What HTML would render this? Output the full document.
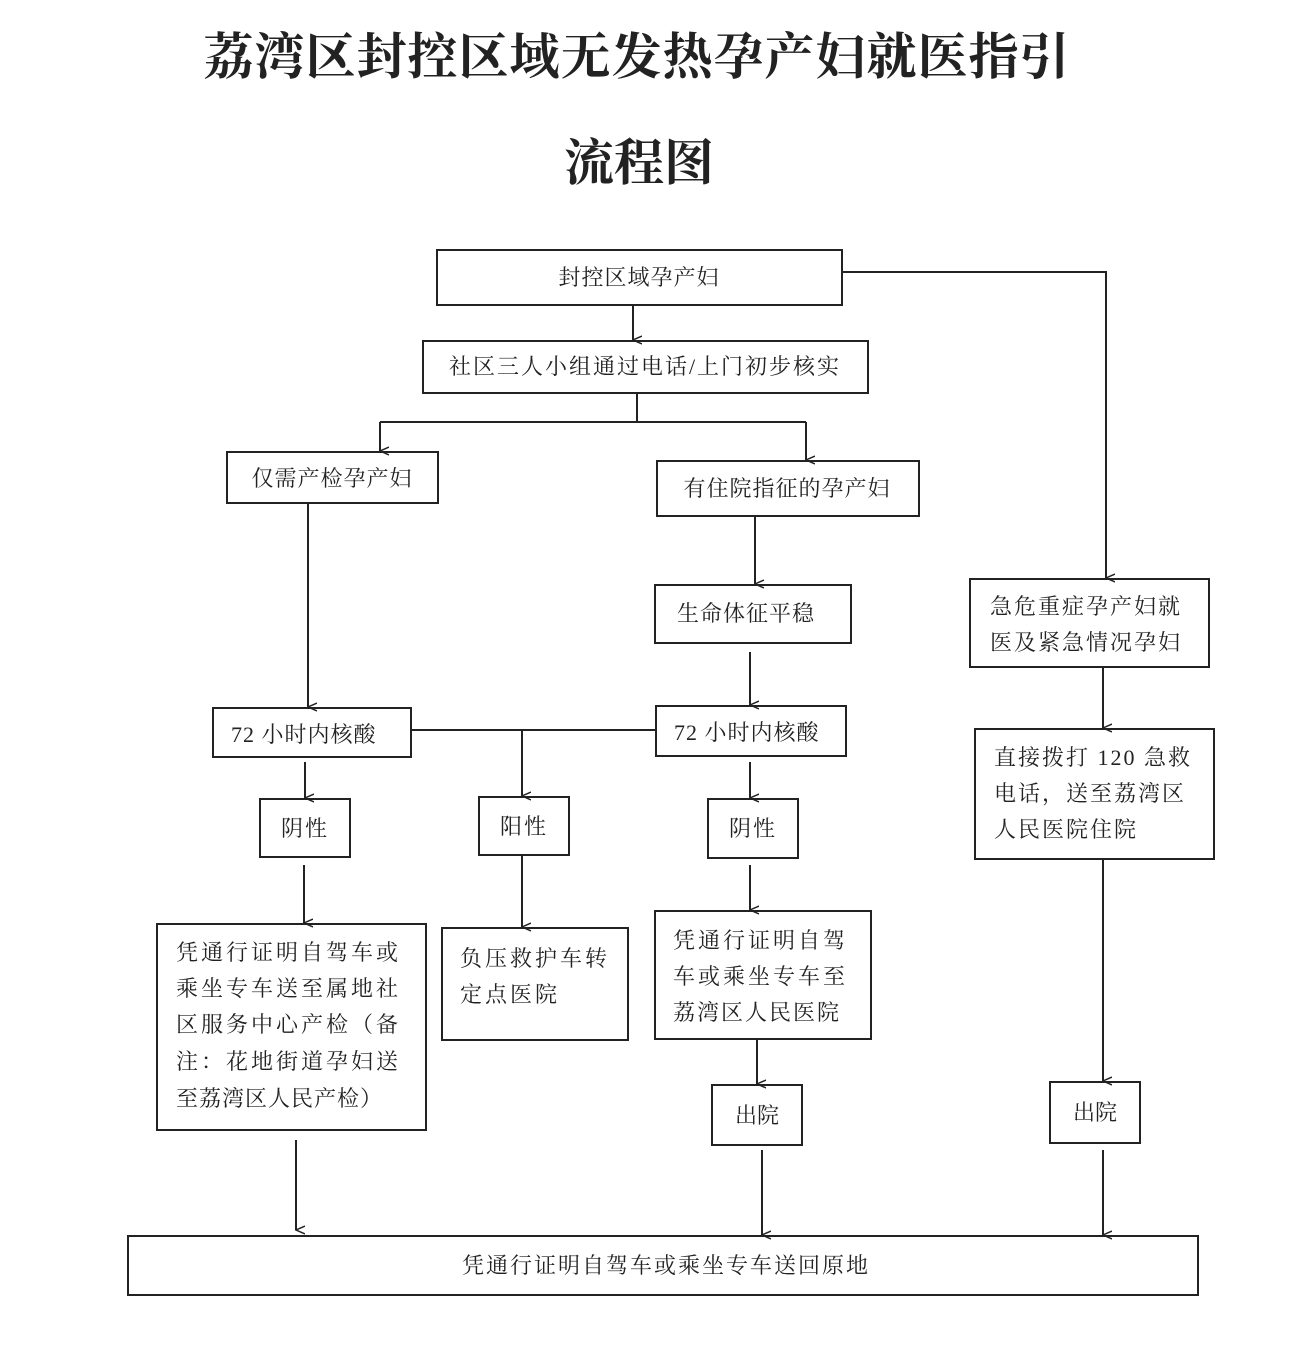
<!DOCTYPE html>
<html><head><meta charset="utf-8"><style>
html,body{margin:0;padding:0;background:#fff;}
svg{display:block;}
text{font-family:"Liberation Serif","Noto Serif CJK SC","Noto Sans CJK SC",serif;fill:#222;}
.t{font-size:22px;}
</style></head><body>
<svg width="1292" height="1362" viewBox="0 0 1292 1362" xmlns="http://www.w3.org/2000/svg">
<defs><marker id="a" markerWidth="10" markerHeight="10" refX="5" refY="9" orient="auto" markerUnits="userSpaceOnUse"><path d="M1,0 L5,9 L9,0" fill="none" stroke="#222" stroke-width="1.5"/></marker></defs>
<text x="637" y="74" text-anchor="middle" font-size="50" font-weight="bold" letter-spacing="1" style="font-family:'Noto Serif CJK SC',serif">荔湾区封控区域无发热孕产妇就医指引</text>
<text x="639" y="180" text-anchor="middle" font-size="50" font-weight="bold" style="font-family:'Noto Serif CJK SC',serif">流程图</text>
<g fill="none" stroke="#222" stroke-width="2">
<rect x="437" y="250" width="405" height="55"/>
<rect x="423" y="341" width="445" height="52"/>
<rect x="227" y="452" width="211" height="51"/>
<rect x="657" y="461" width="262" height="55"/>
<rect x="655" y="585" width="196" height="58"/>
<rect x="970" y="579" width="239" height="88"/>
<rect x="213" y="708" width="198" height="49"/>
<rect x="656" y="706" width="190" height="50"/>
<rect x="975" y="729" width="239" height="130"/>
<rect x="260" y="799" width="90" height="58"/>
<rect x="479" y="797" width="90" height="58"/>
<rect x="708" y="799" width="90" height="59"/>
<rect x="157" y="924" width="269" height="206"/>
<rect x="442" y="928" width="186" height="112"/>
<rect x="655" y="911" width="216" height="128"/>
<rect x="712" y="1085" width="90" height="60"/>
<rect x="1050" y="1082" width="90" height="61"/>
<rect x="128" y="1236" width="1070" height="59"/>
</g>
<g fill="none" stroke="#222" stroke-width="2">
<line x1="633" y1="305" x2="633" y2="340" marker-end="url(#a)"/>
<polyline points="842,272 1106,272 1106,578" marker-end="url(#a)"/>
<line x1="637" y1="393" x2="637" y2="422"/>
<line x1="380" y1="422" x2="806" y2="422"/>
<line x1="380" y1="422" x2="380" y2="451" marker-end="url(#a)"/>
<line x1="806" y1="422" x2="806" y2="460" marker-end="url(#a)"/>
<line x1="308" y1="503" x2="308" y2="707" marker-end="url(#a)"/>
<line x1="755" y1="516" x2="755" y2="584" marker-end="url(#a)"/>
<line x1="750" y1="652" x2="750" y2="705" marker-end="url(#a)"/>
<line x1="411" y1="730" x2="656" y2="730"/>
<line x1="522" y1="730" x2="522" y2="796" marker-end="url(#a)"/>
<line x1="305" y1="762" x2="305" y2="798" marker-end="url(#a)"/>
<line x1="750" y1="762" x2="750" y2="798" marker-end="url(#a)"/>
<line x1="1103" y1="667" x2="1103" y2="728" marker-end="url(#a)"/>
<line x1="304" y1="865" x2="304" y2="923" marker-end="url(#a)"/>
<line x1="522" y1="855" x2="522" y2="927" marker-end="url(#a)"/>
<line x1="750" y1="865" x2="750" y2="910" marker-end="url(#a)"/>
<line x1="757" y1="1039" x2="757" y2="1084" marker-end="url(#a)"/>
<line x1="1103" y1="859" x2="1103" y2="1081" marker-end="url(#a)"/>
<line x1="296" y1="1140" x2="296" y2="1230" marker-end="url(#a)"/>
<line x1="762" y1="1150" x2="762" y2="1235" marker-end="url(#a)"/>
<line x1="1103" y1="1150" x2="1103" y2="1235" marker-end="url(#a)"/>
</g>
<g class="t">
<text x="639" y="285" text-anchor="middle" font-size="22" letter-spacing="1">封控区域孕产妇</text>
<text x="645" y="374" text-anchor="middle" font-size="22" letter-spacing="2">社区三人小组通过电话/上门初步核实</text>
<text x="332" y="486" text-anchor="middle" font-size="22" letter-spacing="1">仅需产检孕产妇</text>
<text x="787" y="496" text-anchor="middle" font-size="22" letter-spacing="1">有住院指征的孕产妇</text>
<text x="746" y="621" text-anchor="middle" font-size="22" letter-spacing="1">生命体征平稳</text>
<text x="990" y="614" font-size="22" letter-spacing="2">急危重症孕产妇就</text>
<text x="990" y="650" font-size="22" letter-spacing="2">医及紧急情况孕妇</text>
<text x="231" y="742" font-size="22" letter-spacing="1">72 小时内核酸</text>
<text x="674" y="740" font-size="22" letter-spacing="1">72 小时内核酸</text>
<text x="994" y="765" font-size="22" letter-spacing="2">直接拨打 120 急救</text>
<text x="994" y="801" font-size="22" letter-spacing="2">电话，送至荔湾区</text>
<text x="994" y="837" font-size="22" letter-spacing="2">人民医院住院</text>
<text x="305" y="836" text-anchor="middle" font-size="22" letter-spacing="2">阴性</text>
<text x="524" y="834" text-anchor="middle" font-size="22" letter-spacing="2">阳性</text>
<text x="753" y="836" text-anchor="middle" font-size="22" letter-spacing="2">阴性</text>
<text x="176" y="960" font-size="22" letter-spacing="3">凭通行证明自驾车或</text>
<text x="176" y="996" font-size="22" letter-spacing="3">乘坐专车送至属地社</text>
<text x="176" y="1032" font-size="22" letter-spacing="3">区服务中心产检（备</text>
<text x="176" y="1069" font-size="22" letter-spacing="3">注：花地街道孕妇送</text>
<text x="176" y="1106" font-size="22" letter-spacing="1">至荔湾区人民产检）</text>
<text x="460" y="966" font-size="22" letter-spacing="3">负压救护车转</text>
<text x="460" y="1002" font-size="22" letter-spacing="3">定点医院</text>
<text x="673" y="948" font-size="22" letter-spacing="3">凭通行证明自驾</text>
<text x="673" y="984" font-size="22" letter-spacing="3">车或乘坐专车至</text>
<text x="673" y="1020" font-size="22" letter-spacing="2">荔湾区人民医院</text>
<text x="757" y="1123" text-anchor="middle" font-size="22">出院</text>
<text x="1095" y="1120" text-anchor="middle" font-size="22">出院</text>
<text x="666" y="1273" text-anchor="middle" font-size="22" letter-spacing="2">凭通行证明自驾车或乘坐专车送回原地</text>
</g>
</svg>
</body></html>
